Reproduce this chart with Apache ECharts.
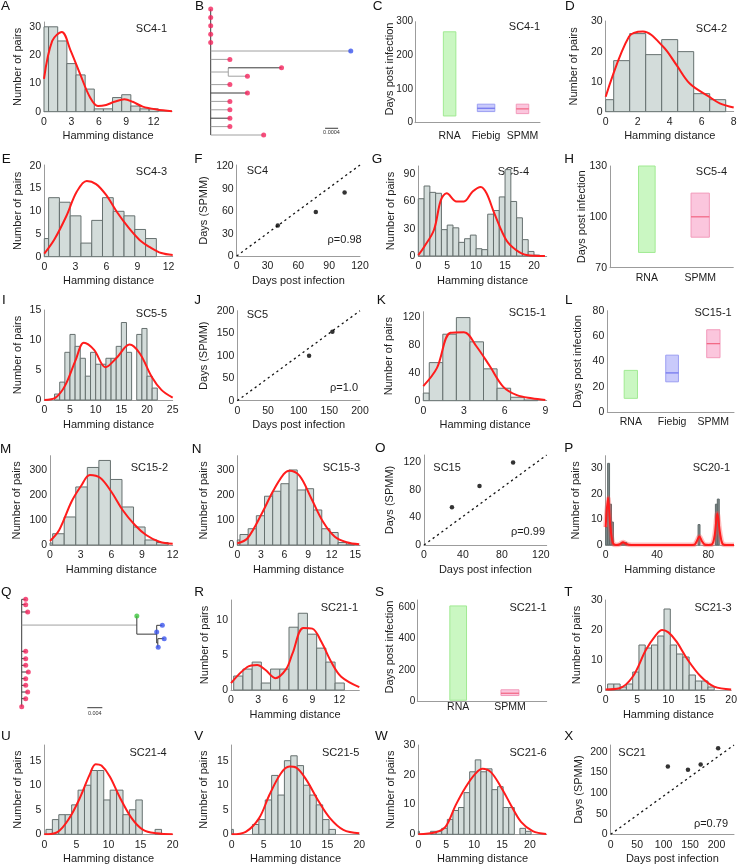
<!DOCTYPE html>
<html><head><meta charset="utf-8">
<script src="https://cdn.jsdelivr.net/npm/echarts@6/dist/echarts.min.js"></script>
<style>html,body{margin:0;padding:0;background:#fff}#c{width:740px;height:866px}</style>
</head><body><div id="c"></div><script>
// ---------------- DATA ----------------
const A_binStart = -0.5, A_binWidth = 1;
const A_counts = [30,30,25,17,13,8,1,1,5,6,2,1,1];
const A_curveX = [0,0.9,1.95,2.9,4.0,5.0,5.9,6.8,7.7,8.8,9.7,10.8,12.3,14];
const A_curveY = [11.6,25,28.2,21.7,12.9,5.3,2,2.4,3.5,4.4,3.5,1.8,0.8,0.2];
const A_xTicks = [0,3,6,9,12], A_yTicks = [0,10,20,30];
const D_binStart = -0.5, D_binWidth = 1;
const D_counts = [4,17,26,19,24,20,6,4];
const D_curveX = [0,1.46,2.33,3.58,4.42,5.25,6.46,7.13,8.0];
const D_curveY = [5,25,26.7,21.7,15.6,9.4,5,2.8,1.4];
const D_xTicks = [0,2,4,6,8], D_yTicks = [0,10,20,30];
const E_binStart = -0.62, E_binWidth = 1.04;
const E_counts = [4,13,12,9,3,8,13,10,9,6,4];
const E_curveX = [0,0.97,2.1,3.13,4.1,5.0,5.97,7.0,8.1,9.2,10.2,11.3,12.4];
const E_curveY = [0.7,3.8,8.8,14.3,16.7,16.0,13.6,9.9,6.5,3.7,2.1,0.8,0.4];
const E_xTicks = [0,3,6,9,12], E_yTicks = [0,5,10,15,20];
const G_binStart = 0, G_binWidth = 1;
const G_counts = [63,77,70,69,29,34,31,15,19,23,8,7,46,50,65,95,60,42,18,5,1];
const G_curveX = [0,1,2.7,3.9,4.9,6.6,7.9,9.4,10.8,11.8,13.2,15.2,16.9,18.7,21.9];
const G_curveY = [1,10,28.6,61.5,69,60,60,71,76,69,46,17.6,6.6,1.1,0];
const G_xTicks = [0,5,10,15,20], G_yTicks = [0,30,60,90];
const I_binStart = 2, I_binWidth = 1;
const I_counts = [1,3,8,11,9,7,4,8,6,6,7,7,9,13,8,0,11,12,4,2];
const I_curveX = [0,2.2,4.1,6.1,7.7,9.7,11.9,14,16.6,18.6,20.9,22.8,25];
const I_curveY = [0,0.4,2.5,6.7,9.6,8.4,5.5,7,9.3,7.8,3.9,1.7,0.4];
const I_xTicks = [0,5,10,15,20,25], I_yTicks = [0,5,10,15];
const K_binStart = -0.56, K_binWidth = 1;
const K_counts = [11,55,96,120,85,46,18,5,1];
const K_curveX = [0,1,2,3,3.9,4.9,5.9,6.9,8,9];
const K_curveY = [21,47,98,99,79,50,20,8,3.4,1];
const K_xTicks = [0,3,6,9], K_yTicks = [0,40,80,120];
const M_binStart = -0.87, M_binWidth = 1.13;
const M_counts = [8,45,112,232,310,338,262,152,72,20,10];
const M_curveX = [0,0.9,2.1,3.05,3.9,4.9,6,7.1,8.3,9.4,10.7,12];
const M_curveY = [16,60,173,237,280,269,213,140,80,40,13,5];
const M_xTicks = [0,3,6,9,12], M_yTicks = [0,100,200,300];
const N_binStart = -0.7, N_binWidth = 1.04;
const N_counts = [20,42,65,117,195,215,245,300,220,225,140,65,50,10,3];
const N_curveX = [0,1.3,3.2,4.5,5.9,6.6,7.9,9.4,10.9,12.4,13.9,15.5];
const N_curveY = [7,27,131,213,283,297,277,187,93,33,11,3];
const N_xTicks = [0,3,6,9,12,15], N_yTicks = [0,100,200,300];
const P_binWidth = 1.5;
const P_binIndex = [0,1,2,3,8,9,10,48,57,58];
const P_binCount = [7,32,16,9,1,1,1,8,16,18];
const P_curveX = [0,1.8,3.5,5.5,8,11,13.5,16,20,65,69,71,73,75,77,80,83,85,87,89,91,94,100];
const P_curveY = [7,18.5,8,1,0,0.3,1.1,0.4,0,0,0.1,1.5,3.3,1.5,0.2,0,0.3,4,12.3,5,0.5,0,0];
const P_xTicks = [0,40,80], P_yTicks = [0,10,20,30];
const R_binStart = 0.3, R_binWidth = 1.02;
const R_counts = [2,3,4,1,3,3,9,11,8,6,4,1];
const R_curveX = [0,1.8,2.9,3.8,4.9,6.1,6.8,8,9,10,11.1,12.2,14.2];
const R_curveY = [1,3.3,3.6,2.9,1.7,3,5.2,8.9,8.8,6.9,4,1.9,0.4];
const R_xTicks = [0,3,6,9,12], R_yTicks = [0,5,10];
const T_binStart = 0.3, T_binWidth = 1;
const T_counts = [2,2,1,2,6,15,14,15,18,27,15,12,11,5,3,3,1];
const T_curveX = [0,2.2,4.3,6.4,8.0,9.0,10.0,11.3,13.1,15.2,17.3,20];
const T_curveY = [0.2,0.6,4.4,13.3,18.3,20,19.2,16.1,10,4.4,1.1,0.2];
const T_xTicks = [0,5,10,15,20], T_yTicks = [0,10,20,30];
const U_binStart = 0.26, U_binWidth = 1;
const U_counts = [1,3,4,4,6,9,10,13,13,7,9,9,4,5,7,0,0,1];
const U_curveX = [0,2.1,3.9,5.5,7.05,8,8.9,10.2,11.7,13.6,15.4,17.5,20];
const U_curveY = [0,0.5,3.3,7.3,12.1,14.3,14,11.8,7.7,3.3,0.9,0.2,0];
const U_xTicks = [0,5,10,15,20], U_yTicks = [0,5,10,15];
const V_binStart = -0.74, V_binWidth = 1;
const V_counts = [1,0,0,0,2,3,7,12,8,15,16,14,10,8,6,3,1];
const V_curveX = [0,2.2,4.3,5.9,7.7,9.05,10.1,11.7,13.5,15.4,17.5,20];
const V_curveY = [0,0.5,3.3,8,12.4,13.8,13.6,11.1,7,3.3,0.9,0.2];
const V_xTicks = [0,5,10,15,20], V_yTicks = [0,5,10,15];
const W_binStart = -0.8, W_binWidth = 1;
const W_counts = [1,0,0,1,1,2,5,8,9,14,21,25,21,22,15,16,9,9,0,2,1];
const W_curveX = [0,3.1,4.9,6.7,8.5,10.2,11.5,13,14.8,16.6,18.4,20.5,22.9];
const W_curveY = [0,0.7,2.6,9.8,15.9,20.3,22,20.9,15.9,9.8,4.2,1.1,0.1];
const W_xTicks = [0,5,10,15,20], W_yTicks = [0,10,20,30];

const F_x = [40,77,105], F_y = [41,59,85];
const F_ticks = [0,30,60,90,120];
const J_x = [117,155], J_y = [100,153];
const J_ticks = [0,50,100,150,200];
const O_x = [28.7,57,91.5], O_y = [55,86,120];
const O_ticks = [0,40,80,120];
const X_x = [108,146,170,203], X_y = [164,156,169,208];
const X_ticks = [0,50,100,150,200];

const C_cats = ['RNA','Fiebig','SPMM'], C_lo = [20,33,27], C_hi = [270,55,55], C_med = [null,43,41];
const C_yTicks = [0,100,200,300];
const H_cats = ['RNA','SPMM'], H_lo = [79,88], H_hi = [130,114], H_med = [null,100];
const H_yTicks = [70,100,130];
const L_cats = ['RNA','Fiebig','SPMM'], L_lo = [11,24,43], L_hi = [33,45,65], L_med = [null,31,54];
const L_yTicks = [0,20,40,60,80];
const S_cats = ['RNA','SPMM'], S_lo = [5,35], S_hi = [610,72], S_med = [null,50];
const S_yTicks = [0,200,400,600];

const B_parent = [-1,0,0,0,0,0,0,0,0,8,8,0,0,0,0,0,0,0];
const B_len    = [0,0,0,0,0,0,43.1,5.9,5.4,16.4,5.9,5.9,11.3,5.9,5.9,5.9,5.9,16.3];
const B_row    = [null,0,1,2,3,4,5,6,null,7,8,9,10,11,12,13,14,15];
const B_leaf   = [null,'r','r','r','r','r','b','r',null,'r','r','r','r','r','r','r','r','r'];
const Q_parent = [-1,0,0,0,0,4,4,6,6,6,9,9,0,0,0,0,0,0,0,0,0];
const Q_len    = [0,1.07,1.07,1.6,30.7,0,5.3,1.5,0,0.3,1.7,0.1,1.07,1.07,1.07,1.76,1.07,1.07,1.6,1.07,0];
const Q_row    = [null,0,0.8,1.9,null,2.5,null,3.9,4.9,null,5.9,7.2,7.8,8.9,9.9,10.9,11.9,12.9,13.9,14.9,16.1];
const Q_leaf   = [null,'r','r','r',null,'g',null,'b','b',null,'b','b','r','r','r','r','r','r','r','r','r'];

// ---------------- STYLE / LAYOUT ----------------
const FONT = '"Liberation Sans", Arial, Helvetica, sans-serif';
const AXC = '#9c9c9c', TXT = '#1c1c1c';
const BAR_FILL = '#d3dcda', BAR_EDGE = '#66706f', KDE = '#ff1c1c';
const LEAF_COL = {r:'#f4245c', b:'#3b55ee', g:'#3cc43c'};
const BOX_STYLE = [
  {fill:'#caf7c2', edge:'#a0ea92', med:'#7ad86a'},
  {fill:'#c9cafb', edge:'#9c9ff2', med:'#5d62ea'},
  {fill:'#fbc6dd', edge:'#f29abb', med:'#f0506e'}
];

const grids = [], xAxes = [], yAxes = [], series = [], texts = [];

function axisBase(min, max, ticks, o) {
  return {
    type:'value', min, max,
    axisLine:{show:true, onZero:false, lineStyle:{color:AXC, width:1}},
    axisTick:{show:false}, splitLine:{show:false},
    axisLabel:{customValues:ticks, fontSize:o.fs || 10.5, color:TXT, fontFamily:FONT, margin:o.margin, formatter:o.fmt, hideOverlap:false},
    name:o.name || '', nameLocation:'middle', nameGap:o.gap || 0, nameMoveOverlap:false,
    nameTextStyle:{fontSize:11, color:TXT, fontFamily:FONT}
  };
}
function addGrid(box, xa, ya) {
  const i = grids.length;
  grids.push({left:box[0], top:box[1], width:box[2], height:box[3], containLabel:false});
  xa.gridIndex = i; ya.gridIndex = i;
  xAxes.push(xa); yAxes.push(ya);
  return i;
}
function barRender(fill, edge) {
  return function (params, api) {
    const cs = params.coordSys;
    const a = api.coord([api.value(0), 0]);
    const b = api.coord([api.value(1), api.value(2)]);
    const x0 = Math.max(a[0], cs.x), x1 = Math.min(b[0], cs.x + cs.width);
    if (x1 <= x0) return;
    return {type:'rect', shape:{x:x0, y:b[1], width:x1 - x0, height:a[1] - b[1]},
      style:{fill, stroke:edge, lineWidth:1}};
  };
}
function bins(start, width, counts) {
  return counts.map((c, i) => [start + i * width, start + (i + 1) * width, c]).filter(d => d[2] > 0);
}
function title(text, x, y, align) {
  texts.push({type:'text', x, y, style:{text, fill:TXT, font:'11px ' + FONT, textAlign:align || 'right', textVerticalAlign:'middle'}});
}

function histPanel(box, xr, yr, xt, yt, yGap, binData, cx, cy, opts) {
  opts = opts || {};
  const g = addGrid(box,
    axisBase(xr[0], xr[1], xt, {margin:5, name:'Hamming distance', gap:19}),
    axisBase(yr[0], yr[1], yt, {margin:3, name:'Number of pairs', gap:yGap}));
  series.push({type:'custom', xAxisIndex:g, yAxisIndex:g, renderItem:barRender(opts.fill || BAR_FILL, opts.edge || BAR_EDGE),
    data:binData, encode:{x:[0,1], y:[2]}, z:2, silent:true});
  const pts = cx.map((x, i) => [x, cy[i]]);
  if (opts.glow) series.push({type:'line', xAxisIndex:g, yAxisIndex:g, data:pts, smooth:0.35, symbol:'none',
    lineStyle:{color:'rgba(255,70,70,0.35)', width:5}, z:3, silent:true});
  series.push({type:'line', xAxisIndex:g, yAxisIndex:g, data:pts, smooth:0.35, symbol:'none',
    lineStyle:{color:KDE, width:2}, z:4, silent:true});
}

function scatterPanel(box, xr, yr, xt, yt, yGap, xs, ys) {
  const g = addGrid(box,
    axisBase(xr[0], xr[1], xt, {margin:5, name:'Days post infection', gap:19}),
    axisBase(yr[0], yr[1], yt, {margin:3, name:'Days (SPMM)', gap:yGap}));
  series.push({type:'line', xAxisIndex:g, yAxisIndex:g, data:[[xr[0], yr[0]], [xr[1], yr[1]]], symbol:'none',
    lineStyle:{color:'#111', width:1.3, type:[2.2, 3.2]}, z:2, silent:true});
  series.push({type:'scatter', xAxisIndex:g, yAxisIndex:g, data:xs.map((x, i) => [x, ys[i]]), symbolSize:4.5,
    itemStyle:{color:'#000'}, z:3, silent:true});
}

// yGap: number -> axis name with that gap; array [x, y] -> rotated free text at that centre
function rangePanel(box, xr, yr, yt, yGap, labMargin, cats, lo, hi, med, styleIdx, widths) {
  const useAxisName = !Array.isArray(yGap);
  const g = addGrid(box,
    axisBase(xr[0], xr[1], cats.map((c, i) => i + 1), {margin:labMargin, fmt:v => cats[Math.round(v) - 1] || ''}),
    axisBase(yr[0], yr[1], yt, {margin:useAxisName ? 3 : 2, fs:useAxisName ? 10.5 : 10,
      name:useAxisName ? 'Days post infection' : '', gap:useAxisName ? yGap : 0}));
  if (!useAxisName) texts.push({type:'text', x:yGap[0], y:yGap[1], rotation:Math.PI / 2,
    style:{text:'Days post infection', fill:TXT, font:'11px ' + FONT, textAlign:'center', textVerticalAlign:'middle'}});
  const data = cats.map((c, i) => [i + 1, lo[i], hi[i], med[i] == null ? NaN : med[i]]);
  series.push({type:'custom', xAxisIndex:g, yAxisIndex:g, data, encode:{x:[0], y:[1,2]}, z:2, silent:true,
    renderItem(params, api) {
      const i = params.dataIndex, st = BOX_STYLE[styleIdx[i]], w = widths[i];
      const top = api.coord([api.value(0), api.value(2)]);
      const bot = api.coord([api.value(0), api.value(1)]);
      const kids = [{type:'rect', shape:{x:top[0] - w / 2, y:top[1], width:w, height:bot[1] - top[1]},
        style:{fill:st.fill, stroke:st.edge, lineWidth:1}}];
      const m = api.value(3);
      if (!isNaN(m)) {
        const mp = api.coord([api.value(0), m]);
        kids.push({type:'line', shape:{x1:mp[0] - w / 2, y1:mp[1], x2:mp[0] + w / 2, y2:mp[1]}, style:{stroke:st.med, lineWidth:1}});
      }
      return {type:'group', children:kids};
    }});
}

function treePanel(box, xr, yr, parent, len, row, leaf, darkEdges, scaleBar) {
  const n = parent.length, xs = new Array(n), ys = new Array(n), kids = parent.map(() => []);
  parent.forEach((p, i) => { if (p >= 0) kids[p].push(i); });
  function px(i) { if (xs[i] != null) return xs[i]; xs[i] = (parent[i] >= 0 ? px(parent[i]) : 0) + len[i]; return xs[i]; }
  function py(i) {
    if (ys[i] != null) return ys[i];
    if (row[i] != null) { ys[i] = row[i]; return ys[i]; }
    const cy = kids[i].map(py); ys[i] = (Math.min(...cy) + Math.max(...cy)) / 2; return ys[i];
  }
  for (let i = 0; i < n; i++) { px(i); py(i); }
  const segs = [];
  for (let i = 0; i < n; i++) {
    const d = darkEdges.indexOf(i) >= 0 ? 1 : 0;
    if (parent[i] >= 0 && len[i] > 0) segs.push([xs[parent[i]], ys[i], xs[i], ys[i], d]);
    if (kids[i].length) {
      const cy = kids[i].map(k => ys[k]);
      segs.push([xs[i], Math.min(...cy), xs[i], Math.max(...cy), darkEdges.indexOf(-1 - i) >= 0 ? 1 : 0]);
    }
  }
  segs.push([scaleBar[0], scaleBar[2], scaleBar[1], scaleBar[2], 1]);
  const hid = (min, max, inv) => ({type:'value', min, max, inverse:!!inv, show:false});
  const g = addGrid(box, hid(xr[0], xr[1]), hid(yr[0], yr[1], true));
  series.push({type:'custom', xAxisIndex:g, yAxisIndex:g, data:segs, encode:{x:[0,2], y:[1,3]}, z:2, silent:true,
    renderItem(params, api) {
      const a = api.coord([api.value(0), api.value(1)]), b = api.coord([api.value(2), api.value(3)]);
      return {type:'line', shape:{x1:a[0], y1:a[1], x2:b[0], y2:b[1]},
        style:{stroke:api.value(4) ? '#3a3a3a' : '#a0a0a0', lineWidth:1}};
    }});
  const dots = [];
  for (let i = 0; i < n; i++) if (leaf[i]) dots.push({value:[xs[i], ys[i]], itemStyle:{color:LEAF_COL[leaf[i]]}});
  series.push({type:'scatter', xAxisIndex:g, yAxisIndex:g, data:dots, symbolSize:5, z:3, silent:true});
}

// ---------------- PANELS ----------------
histPanel([44,22,128,89.7],[0,14],[0,31.7],A_xTicks,A_yTicks,21,bins(A_binStart,A_binWidth,A_counts),A_curveX,A_curveY);
treePanel([210.7,9,146.25,126],[0,45],[0,15],B_parent,B_len,B_row,B_leaf,[9,12,15,-1],[35.2,39.2,14.2]);
rangePanel([415,21.7,125,101],[0.05,3.48],[0,300],C_yTicks,[389.5,69],8,C_cats,C_lo,C_hi,C_med,[0,1,2],[12.5,17.5,12.5]);
histPanel([605.7,21,128,90.7],[0,8],[0,30.2],D_xTicks,D_yTicks,26.7,bins(D_binStart,D_binWidth,D_counts),D_curveX,D_curveY);
histPanel([44.3,165,128.4,91.7],[0,12.4],[0,20.2],E_xTicks,E_yTicks,21,bins(E_binStart,E_binWidth,E_counts),E_curveX,E_curveY);
scatterPanel([236.7,165,123.3,91],[0,120],[0,122],F_ticks,F_ticks,27.7,F_x,F_y);
histPanel([418.3,166,128.4,90],[0,22.2],[0,99],G_xTicks,G_yTicks,22.3,bins(G_binStart,G_binWidth,G_counts),G_curveX,G_curveY);
rangePanel([610,166,123.3,101.7],[0.31,2.62],[70,130],H_yTicks,22.3,4.5,H_cats,H_lo,H_hi,H_med,[0,2],[16.6,18.3]);
histPanel([44.3,310,128.4,90],[0,25],[0,15.1],I_xTicks,I_yTicks,21,bins(I_binStart,I_binWidth,I_counts),I_curveX,I_curveY);
scatterPanel([237.3,310.7,122.7,90],[0,200],[0,200],J_ticks,J_ticks,28,J_x,J_y);
histPanel([423.3,311.7,123.4,89],[0,9.1],[0,128.5],K_xTicks,K_yTicks,29,bins(K_binStart,K_binWidth,K_counts),K_curveX,K_curveY);
rangePanel([607.3,310.7,126.7,101.6],[0.43,3.5],[0,80],L_yTicks,24,4,L_cats,L_lo,L_hi,L_med,[0,1,2],[13.3,12.7,13.3]);
histPanel([50,455.7,122.7,89.3],[0,12],[0,357],M_xTicks,M_yTicks,27.3,bins(M_binStart,M_binWidth,M_counts),M_curveX,M_curveY);
histPanel([237.3,455.7,122.7,89.3],[0,15.6],[0,357],N_xTicks,N_yTicks,27.5,bins(N_binStart,N_binWidth,N_counts),N_curveX,N_curveY);
scatterPanel([424,455,122.7,90],[0,126],[0,131],O_ticks,O_ticks,28.5,O_x,O_y);
histPanel([605.7,455.7,128.3,89.3],[0,100],[0,35],P_xTicks,P_yTicks,24.7,
  P_binIndex.map((k, i) => [k * P_binWidth, (k + 1) * P_binWidth, P_binCount[i]]),P_curveX,P_curveY,
  {fill:'#7e8a8a', edge:'#5f6a6a', glow:true});
treePanel([21.7,599.3,150,107.4],[0,40],[0,16.1],Q_parent,Q_len,Q_row,Q_leaf,[1,2,3,5,6,7,9,10,11,12,13,14,15,16,17,18,19,-1,-5,-7,-10],[17.5,21.5,16.25]);
histPanel([231,600,128.3,90],[0,14.2],[0,12.9],R_xTicks,R_yTicks,21,bins(R_binStart,R_binWidth,R_counts),R_curveX,R_curveY);
rangePanel([417.3,600,129.4,101],[0.21,2.71],[0,648],S_yTicks,[389.5,647],1,S_cats,S_lo,S_hi,S_med,[0,2],[16.7,18]);
histPanel([605.7,600,128.3,90],[0,20],[0,30],T_xTicks,T_yTicks,23.7,bins(T_binStart,T_binWidth,T_counts),T_curveX,T_curveY);
histPanel([44.3,745,128.4,89.3],[0,20],[0,18.2],U_xTicks,U_yTicks,21,bins(U_binStart,U_binWidth,U_counts),U_curveX,U_curveY);
histPanel([231.7,745,127.6,89.3],[0,20],[0,18.2],V_xTicks,V_yTicks,22,bins(V_binStart,V_binWidth,V_counts),V_curveX,V_curveY);
histPanel([418.3,745,128.4,89.3],[0,23],[0,30],W_xTicks,W_yTicks,22,bins(W_binStart,W_binWidth,W_counts),W_curveX,W_curveY);
scatterPanel([610.7,745,123.3,89.3],[0,233],[0,216],X_ticks,X_ticks,26,X_x,X_y);

// ---------------- TEXT ----------------
const letters = [['A',1,6],['B',195,6],['C',372.7,6],['D',565,6],
  ['E',1.7,159],['F',194.3,159],['G',371.7,159],['H',564.3,159],
  ['I',2,300.5],['J',194.3,300.5],['K',376.7,300.5],['L',565,300.5],
  ['M',0,449],['N',191.7,449],['O',375,448],['P',564.3,448],
  ['Q',1,592],['R',194.3,592],['S',375,592],['T',564.3,592.5],
  ['U',1,736.5],['V',194.3,736.5],['W',375,736.5],['X',564.3,736.5]];
letters.forEach(l => texts.push({type:'text', x:l[1], y:l[2],
  style:{text:l[0], fill:'#111', font:'13.5px ' + FONT, textAlign:'left', textVerticalAlign:'middle'}}));
title('SC4-1',167,29); title('SC4-1',540,26.7); title('SC4-2',727,29.3);
title('SC4-3',167,171.7); title('SC4',246.7,171,'left'); title('\u03c1=0.98',361.7,240);
title('SC5-4',529,171.7); title('SC5-4',727,171.7);
title('SC5-5',167,314); title('SC5',246.7,315,'left'); title('\u03c1=1.0',358,388.3);
title('SC15-1',546,313.3); title('SC15-1',731.7,313.3);
title('SC15-2',168,467.7); title('SC15-3',360,467.7);
title('SC15',433.3,468.3,'left'); title('\u03c1=0.99',545,532.3); title('SC20-1',730,468.3);
title('SC21-1',358,607.7); title('SC21-1',546.7,607.7); title('SC21-3',731.7,607.7);
title('SC21-4',166.7,752.7); title('SC21-5',359.3,752.7); title('SC21-6',546.7,752.7);
title('SC21',618.3,752.7,'left'); title('\u03c1=0.79',728,824.3);
texts.push({type:'text', x:331.5, y:132.5, style:{text:'0.0004', fill:'#333', font:'5.5px ' + FONT, textAlign:'center', textVerticalAlign:'middle'}});
texts.push({type:'text', x:94.8, y:713, style:{text:'0.004', fill:'#333', font:'5.5px ' + FONT, textAlign:'center', textVerticalAlign:'middle'}});

const chart = echarts.init(document.getElementById('c'), null, {renderer:'canvas'});
chart.setOption({
  animation:false, backgroundColor:'#fff',
  textStyle:{fontFamily:FONT},
  grid:grids, xAxis:xAxes, yAxis:yAxes, series,
  graphic:{elements:texts}
});
</script></body></html>
